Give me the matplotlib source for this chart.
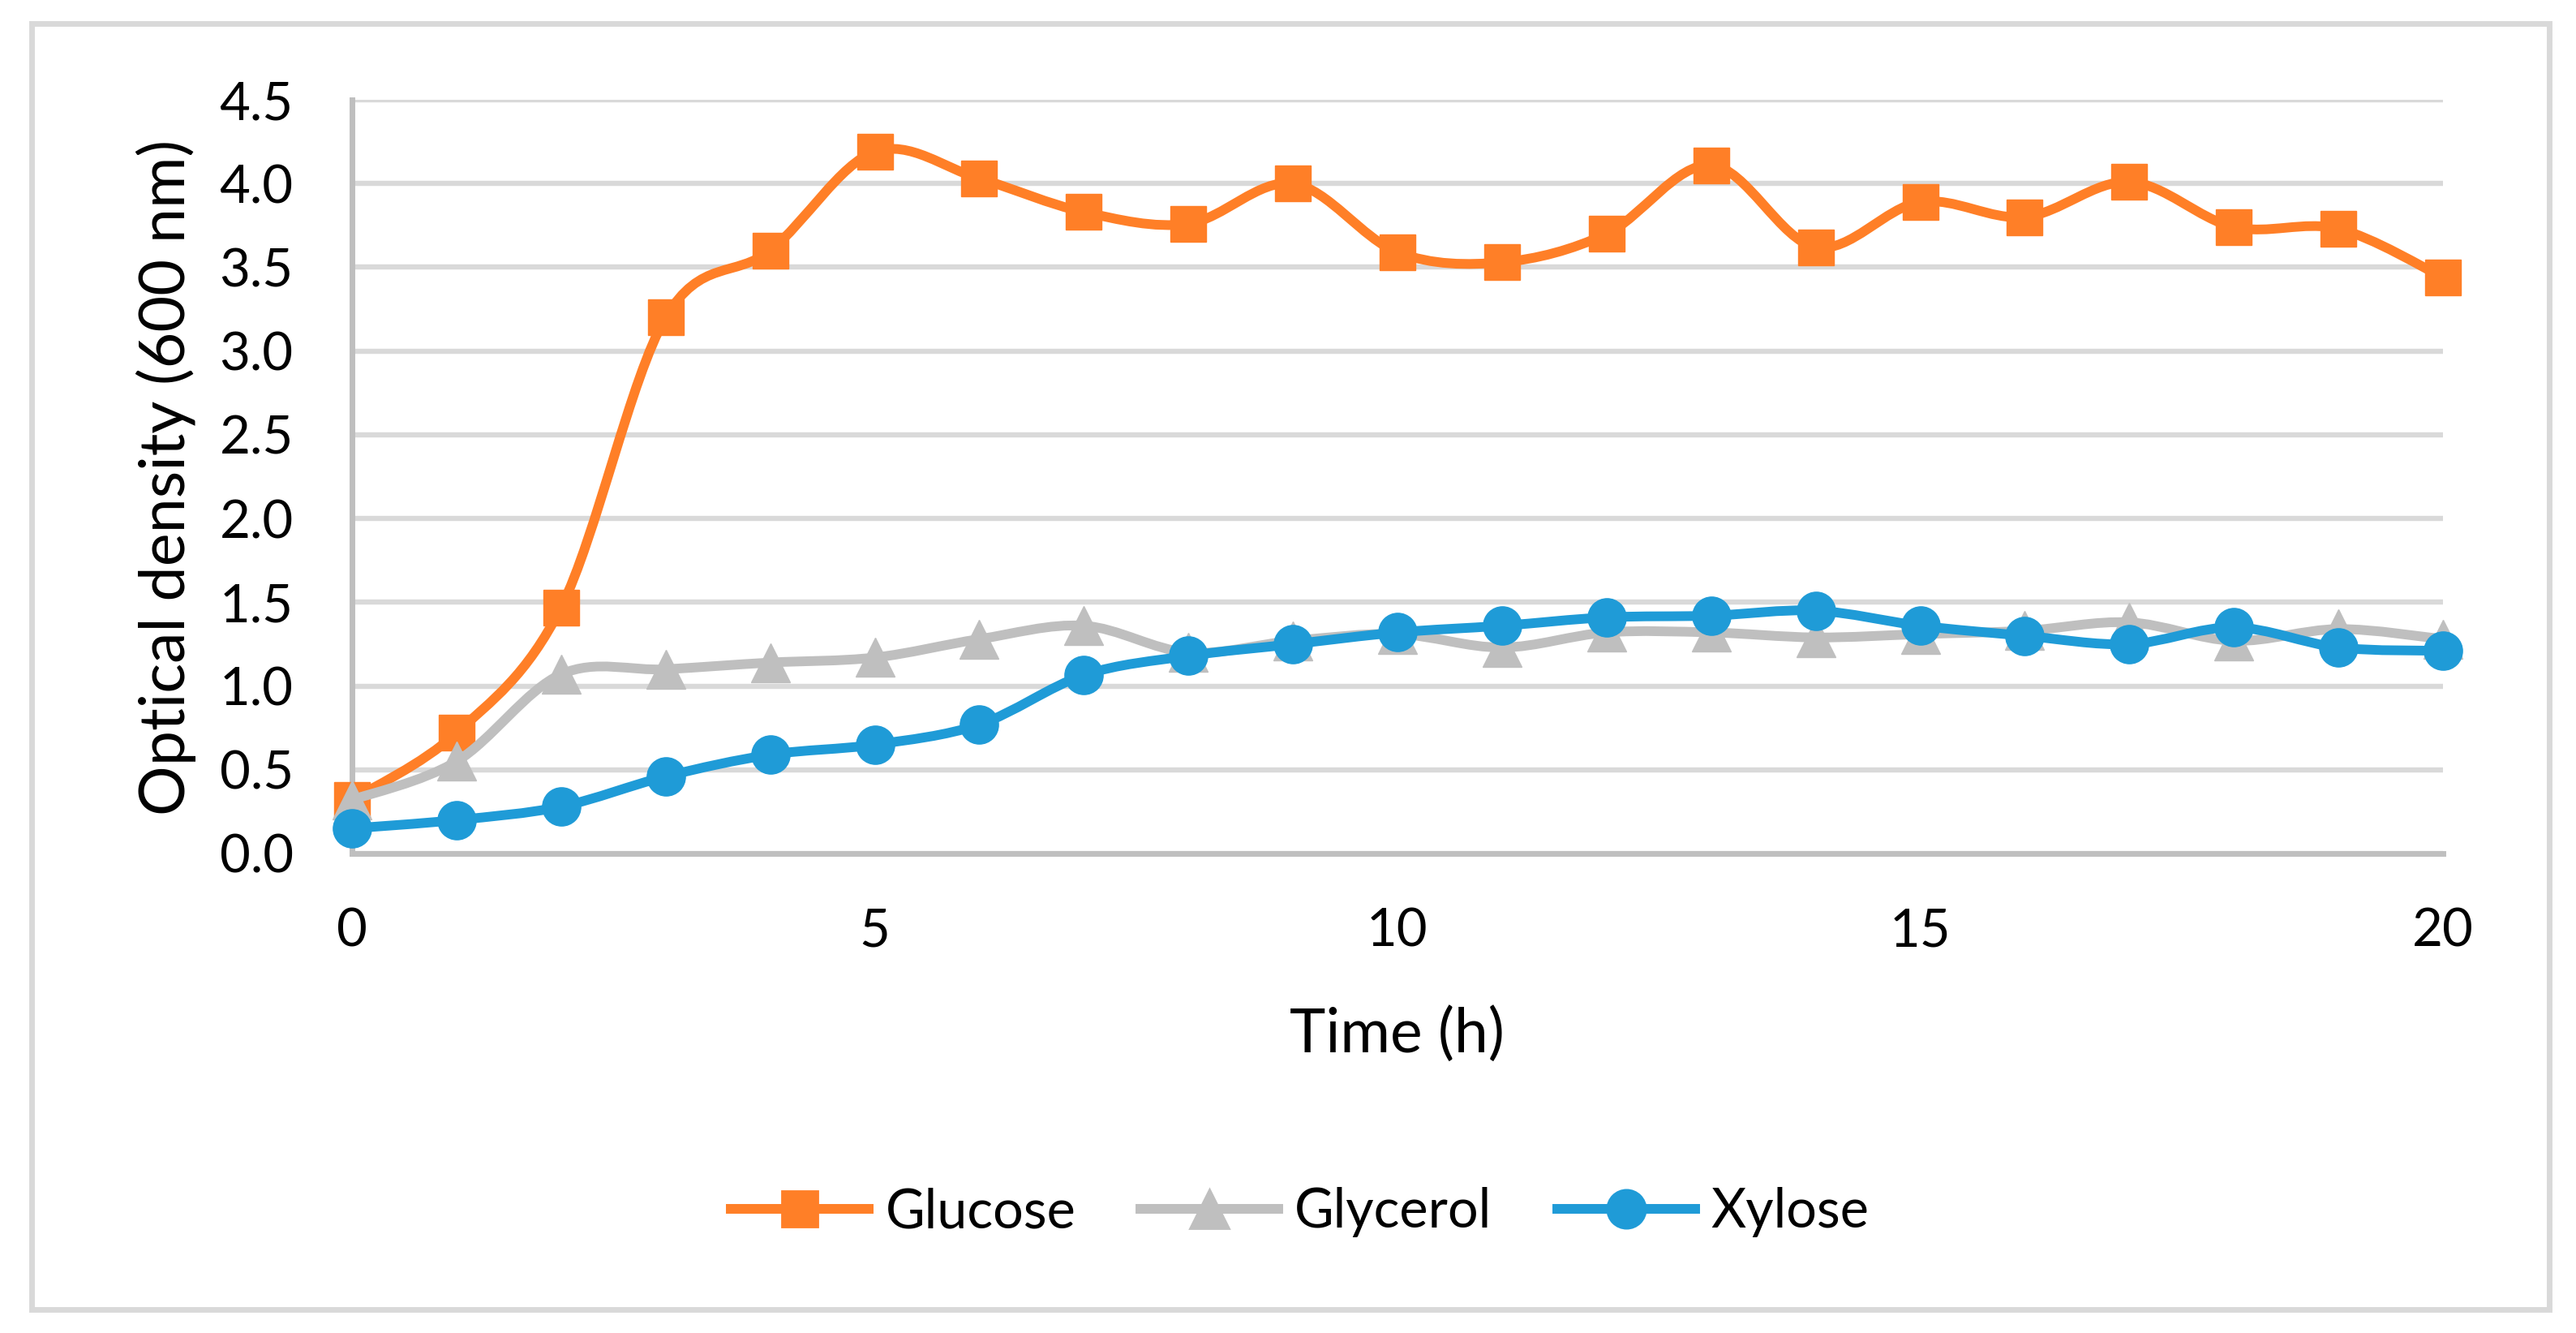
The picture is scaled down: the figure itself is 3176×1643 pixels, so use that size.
import matplotlib
matplotlib.use("Agg")
import matplotlib.pyplot as plt
from matplotlib.path import Path
from matplotlib.patches import PathPatch, Rectangle
from matplotlib.lines import Line2D
import numpy as np

plt.rcParams['font.family'] = ['Lato', 'DejaVu Sans']

# ---- data ----
time_h = list(range(0, 21))
glucose = [0.32, 0.72, 1.47, 3.20, 3.60, 4.19, 4.03, 3.83, 3.76, 4.00, 3.59,
           3.53, 3.70, 4.11, 3.62, 3.89, 3.80, 4.01, 3.74, 3.73, 3.44]
glycerol = [0.32, 0.55, 1.07, 1.10, 1.14, 1.17, 1.28, 1.36, 1.20, 1.27, 1.31,
            1.23, 1.32, 1.32, 1.29, 1.31, 1.33, 1.38, 1.27, 1.34, 1.28]
xylose = [0.15, 0.20, 0.28, 0.46, 0.59, 0.65, 0.77, 1.065, 1.18, 1.25, 1.32,
          1.36, 1.41, 1.42, 1.45, 1.36, 1.30, 1.25, 1.35, 1.23, 1.21]
series_names = ["Glucose", "Glycerol", "Xylose"]
x_ticks = [0, 5, 10, 15, 20]
y_ticks = [0.0, 0.5, 1.0, 1.5, 2.0, 2.5, 3.0, 3.5, 4.0, 4.5]

colors = ["#FF7F27", "#BFBFBF", "#1F9BD7"]
markers = ["s", "^", "o"]
msizes = [16.0, 17.0, 17.0]

W, H = 3176, 1643
DPI = 200
fig = plt.figure(figsize=(W / DPI, H / DPI), dpi=DPI)

def fx(px):
    return px / W

def fy(py):
    return 1 - py / H

# outer chart border
fig.patches.append(Rectangle((fx(38.5), fy(1614)), fx(3143) - fx(38.5), fy(29) - fy(1614),
                             transform=fig.transFigure, fill=False,
                             edgecolor="#D9D9D9", linewidth=2.5, zorder=0))

ax = fig.add_axes([fx(434), fy(1052), fx(3012) - fx(434), fy(123) - fy(1052)])
ax.set_xlim(0, 20)
ax.set_ylim(0, 4.5)
ax.set_xticks(x_ticks)
ax.set_yticks(y_ticks)
ax.set_yticklabels([f"{v:.1f}" for v in y_ticks])
ax.tick_params(axis='both', length=0, labelsize=23.5, colors="black")
ax.tick_params(axis='y', pad=26)
ax.tick_params(axis='x', pad=24)
ax.yaxis.grid(True, color="#D9D9D9", linewidth=2.3)
ax.set_axisbelow(True)
for s in ["top", "right"]:
    ax.spines[s].set_visible(False)
ax.spines["bottom"].set_color("#BFBFBF")
ax.spines["bottom"].set_linewidth(2.5)
ax.spines["left"].set_color("#BFBFBF")
ax.spines["left"].set_linewidth(2.5)


def smooth_path(xs, ys):
    xs = np.asarray(xs, float)
    ys = np.asarray(ys, float)
    pts = np.column_stack([xs, ys])
    n = len(pts)
    verts = [pts[0]]
    codes = [Path.MOVETO]
    for i in range(n - 1):
        p0 = pts[i - 1] if i > 0 else pts[i]
        p1 = pts[i]
        p2 = pts[i + 1]
        p3 = pts[i + 2] if i + 2 < n else pts[i + 1]
        c1 = p1 + (p2 - p0) / 6.0
        c2 = p2 - (p3 - p1) / 6.0
        verts += [c1, c2, p2]
        codes += [Path.CURVE4] * 3
    return Path(verts, codes)


all_series = [glucose, glycerol, xylose]
handles = []
for k, (vals, name) in enumerate(zip(all_series, series_names)):
    patch = PathPatch(smooth_path(time_h, vals), fill=False, edgecolor=colors[k],
                      linewidth=4.3, capstyle='round', joinstyle='round',
                      zorder=3 + 2 * k, clip_on=False)
    ax.add_patch(patch)
    ax.plot(time_h, vals, linestyle='none', marker=markers[k], markersize=msizes[k],
            markerfacecolor=colors[k], markeredgecolor=colors[k], markeredgewidth=0.5,
            zorder=4 + 2 * k, clip_on=False)
    handles.append(Line2D([0], [0], color=colors[k], linewidth=4.3, marker=markers[k],
                          markersize=msizes[k], markerfacecolor=colors[k],
                          markeredgecolor=colors[k], label=name))

fig.text(fx(1722), fy(1297), "Time (h)", ha='center', va='baseline', fontsize=27)
fig.text(fx(228), fy(588), "Optical density (600 nm)", ha='center', va='baseline',
         rotation=90, rotation_mode='anchor', fontsize=27.8)

fig.legend(handles=handles, loc='center', bbox_to_anchor=(fx(1603), fy(1494)),
           ncol=3, frameon=False, fontsize=24, handlelength=2.55,
           handletextpad=0.3, columnspacing=1.2)

fig.savefig("out.png", dpi=DPI)
